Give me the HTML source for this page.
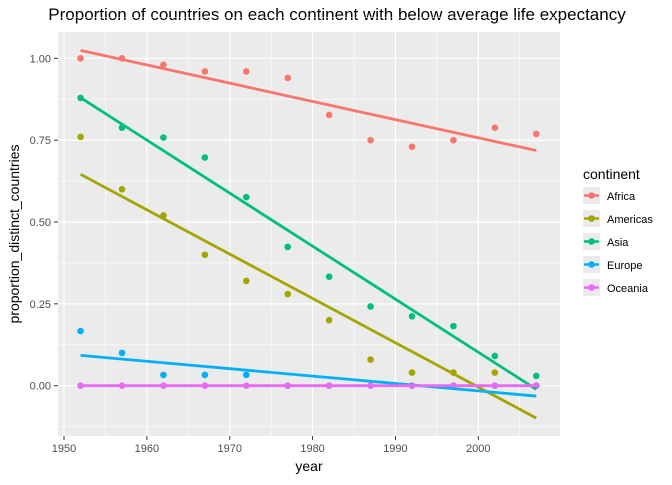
<!DOCTYPE html>
<html><head><meta charset="utf-8"><style>
body{margin:0;background:#fff;font-family:"Liberation Sans",sans-serif;}
text{font-family:"Liberation Sans",sans-serif;}
</style></head><body>
<svg id="chart" width="672" height="480" xmlns="http://www.w3.org/2000/svg">
<text x="337" y="20" font-size="17" text-anchor="middle" fill="#000">Proportion of countries on each continent with below average life expectancy</text>
<rect x="58" y="32" width="502" height="404" fill="#ebebeb"/>
<g id="grid"></g><g id="marks"></g><g id="axes"></g>
<text x="309" y="471" font-size="14" text-anchor="middle">year</text>
<text transform="translate(19,234) rotate(-90)" font-size="14" text-anchor="middle">proportion_distinct_countries</text>
<g id="legend"></g>
</svg>
<script>
const years=[1952,1957,1962,1967,1972,1977,1982,1987,1992,1997,2002,2007];
const continents=["Africa","Americas","Asia","Europe","Oceania"];
const colors=["#F8766D","#A3A500","#00BF7D","#00B0F6","#E76BF3"];
const africa=[1,1,0.98,0.96,0.96,0.94,0.827,0.75,0.73,0.75,0.788,0.769];
const americas=[0.76,0.6,0.52,0.4,0.32,0.28,0.2,0.08,0.04,0.04,0.04,0];
const asia=[0.879,0.788,0.758,0.697,0.576,0.424,0.333,0.242,0.212,0.182,0.091,0.03];
const europe=[0.167,0.1,0.033,0.033,0.033,0,0,0,0,0,0,0];
const oceania=[0,0,0,0,0,0,0,0,0,0,0,0];
const xTicks=[1950,1960,1970,1980,1990,2000];
const yTicks=[0,0.25,0.5,0.75,1];
const yTickLabels=["0.00","0.25","0.50","0.75","1.00"];
const series=[africa,americas,asia,europe,oceania];
const NS="http://www.w3.org/2000/svg";
const X=v=>64+(v-1950)*8.286;
const Y=v=>385.7-v*327.4;
function mk(t,a,p){const e=document.createElementNS(NS,t);for(const k in a)e.setAttribute(k,a[k]);p.appendChild(e);return e;}
const grid=document.getElementById('grid'),marks=document.getElementById('marks'),axes=document.getElementById('axes'),leg=document.getElementById('legend');
// minor grid
for(let i=0;i<xTicks.length;i++){const m=xTicks[i]+5;const l=mk('line',{x1:X(m),x2:X(m),y1:32,y2:436,stroke:'#fff','stroke-width':0.6},grid);
}
for(let i=-1;i<yTicks.length;i++){const m=(i<0?-0.25:yTicks[i])+0.125;const l=mk('line',{x1:58,x2:560,y1:Y(m),y2:Y(m),stroke:'#fff','stroke-width':0.6},grid);
}
xTicks.forEach(t=>{const l=mk('line',{x1:X(t),x2:X(t),y1:32,y2:436,stroke:'#fff','stroke-width':1.2},grid);

const k=mk('line',{x1:X(t),x2:X(t),y1:436,y2:440,stroke:'#333','stroke-width':1},axes);

const tx=mk('text',{x:X(t),y:452,'font-size':11,'text-anchor':'middle',fill:'#4d4d4d'},axes);tx.textContent=t;
});
yTicks.forEach((t,i)=>{const l=mk('line',{x1:58,x2:560,y1:Y(t),y2:Y(t),stroke:'#fff','stroke-width':1.2},grid);

const k=mk('line',{x1:54,x2:58,y1:Y(t),y2:Y(t),stroke:'#333','stroke-width':1},axes);

const tx=mk('text',{x:51,y:Y(t)+4,'font-size':11,'text-anchor':'end',fill:'#4d4d4d'},axes);tx.textContent=yTickLabels[i];
});
function fit(ys){const n=years.length;const mx=years.reduce((a,b)=>a+b)/n,my=ys.reduce((a,b)=>a+b)/n;let sxy=0,sxx=0;
for(let i=0;i<n;i++){sxy+=(years[i]-mx)*(ys[i]-my);sxx+=(years[i]-mx)**2;}const b=sxy/sxx;return x=>my+b*(x-mx);}
series.forEach((s,si)=>{s.forEach((v,i)=>{const c=mk('circle',{cx:X(years[i]),cy:Y(v),r:3.3,fill:colors[si]},marks);
});});
series.forEach((s,si)=>{const f=fit(s);const x0=years[0],x1=years[years.length-1];
const l=mk('line',{x1:X(x0),y1:Y(f(x0)),x2:X(x1),y2:Y(f(x1)),stroke:colors[si],'stroke-width':2.8},marks);
});
const lt=mk('text',{x:583,y:179,'font-size':14},leg);lt.textContent='continent';

continents.forEach((c,i)=>{const y=187+i*23;const g=mk('g',{},leg);

mk('rect',{x:583,y:y,width:17,height:17,fill:'#ebebeb'},g);
mk('line',{x1:584,x2:599,y1:y+8.5,y2:y+8.5,stroke:colors[i],'stroke-width':2.5},g);
mk('circle',{cx:591.5,cy:y+8.5,r:3.3,fill:colors[i]},g);
const t=mk('text',{x:607,y:y+13,'font-size':11,fill:'#000'},g);t.textContent=c;});
</script>
</body></html>
